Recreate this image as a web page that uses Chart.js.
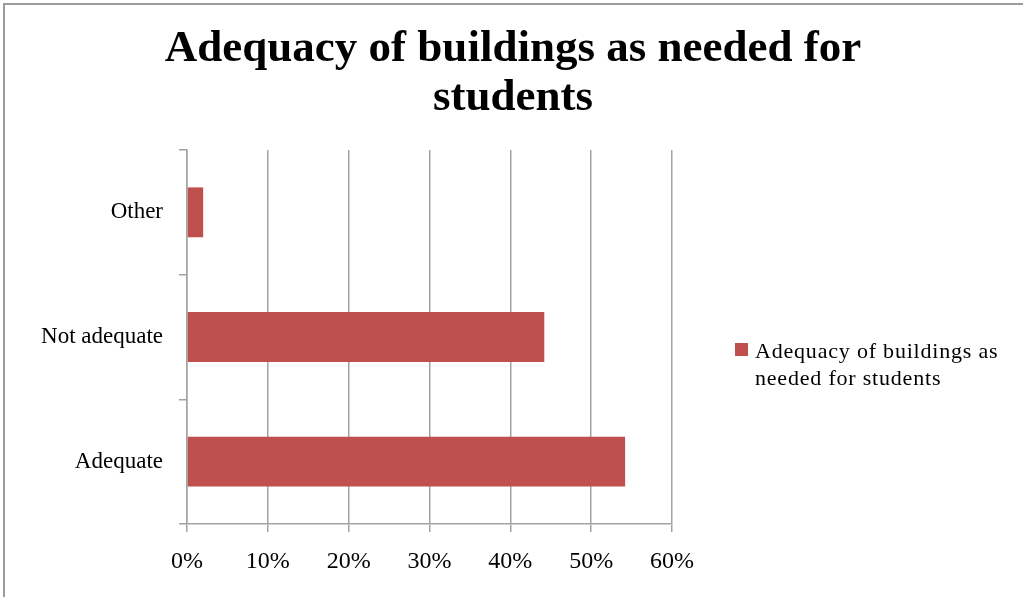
<!DOCTYPE html>
<html>
<head>
<meta charset="utf-8">
<title>Adequacy of buildings as needed for students</title>
<script src="https://cdn.jsdelivr.net/npm/chart.js@4/dist/chart.umd.min.js"></script>
<style>
  html, body { margin: 0; padding: 0; background: #ffffff; }
  #wrap { position: relative; width: 1023px; height: 597px; }
</style>
</head>
<body>
<div id="wrap"><canvas id="chart" width="1023" height="597"></canvas></div>
<script>
// Survey answers, listed top to bottom as they appear on the category axis
const categories = ['Other', 'Not adequate', 'Adequate'];
// Share of respondents, in percent
const shares = [2.0, 44.2, 54.2];
const seriesName = 'Adequacy of buildings as needed for students';
const titleLines = ['Adequacy of buildings as needed for', 'students'];
const legendLines = ['Adequacy of buildings as', 'needed for students'];
const xTicks = [0, 10, 20, 30, 40, 50, 60];

const BAR_RED = '#C0504D';
const AXIS_GREY = '#a3a3a3';
const SERIF = '"Liberation Serif", "DejaVu Serif", serif';

// Frame, heading and the wrapped legend entry are painted by this plugin
const decorations = {
  id: 'decorations',
  beforeDraw(chart) {
    const ctx = chart.ctx;
    ctx.save();
    ctx.fillStyle = '#ffffff';
    ctx.fillRect(0, 0, chart.width, chart.height);
    ctx.strokeStyle = '#9c9c9c';
    ctx.lineWidth = 2;
    ctx.strokeRect(4, 4, chart.width + 40, chart.height + 40);
    ctx.restore();
  },
  afterDraw(chart) {
    const ctx = chart.ctx;
    ctx.save();
    // Heading
    ctx.fillStyle = '#000000';
    ctx.font = 'bold 45px ' + SERIF;
    ctx.textAlign = 'center';
    ctx.textBaseline = 'middle';
    titleLines.forEach((line, i) => ctx.fillText(line, 513, 49 + i * 49));

    // Legend entry
    const ds = chart.data.datasets[0];
    ctx.fillStyle = ds.backgroundColor;
    ctx.fillRect(735, 343, 13, 13);
    ctx.fillStyle = '#000000';
    ctx.font = '22px ' + SERIF;
    ctx.textAlign = 'left';
    ctx.textBaseline = 'alphabetic';
    if ('letterSpacing' in ctx) ctx.letterSpacing = '0.8px';
    legendLines.forEach((line, i) => ctx.fillText(line, 755, 358 + i * 27));
    ctx.restore();
  }
};

new Chart(document.getElementById('chart'), {
  type: 'bar',
  data: {
    labels: categories,
    datasets: [{
      label: seriesName,
      data: shares,
      backgroundColor: BAR_RED,
      borderWidth: 0,
      barPercentage: 0.4,
      categoryPercentage: 1.0
    }]
  },
  options: {
    indexAxis: 'y',
    responsive: false,
    animation: false,
    layout: { padding: { left: 0, top: 150, right: 1023 - 672, bottom: 0 } },
    plugins: {
      legend: { display: false },
      title: { display: false },
      tooltip: { enabled: false }
    },
    scales: {
      x: {
        min: 0,
        max: 60,
        afterBuildTicks(scale) {
          scale.ticks = xTicks.map(v => ({ value: v }));
        },
        afterFit(scale) { scale.height = 597 - 524; },
        grid: {
          color: AXIS_GREY,
          lineWidth: 1.5,
          tickLength: 8,
          drawOnChartArea: true
        },
        border: { display: true, color: AXIS_GREY, width: 1.5 },
        ticks: {
          color: '#000000',
          padding: 15,
          font: { family: SERIF, size: 24 },
          callback: v => v + '%'
        }
      },
      y: {
        afterFit(scale) { scale.width = 187; },
        grid: {
          color: AXIS_GREY,
          lineWidth: 1.5,
          tickLength: 8,
          offset: true,
          drawOnChartArea: false
        },
        border: { display: true, color: AXIS_GREY, width: 1.5 },
        ticks: {
          color: '#000000',
          padding: 16,
          font: { family: SERIF, size: 23 }
        }
      }
    }
  },
  plugins: [decorations]
});
</script>
</body>
</html>
